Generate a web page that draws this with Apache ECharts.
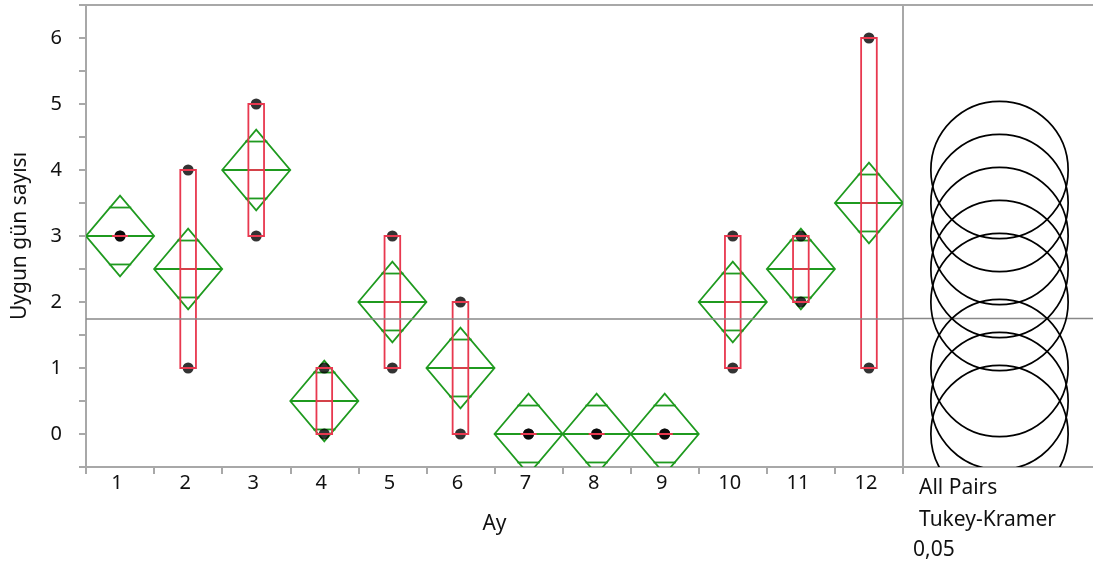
<!DOCTYPE html>
<html><head><meta charset="utf-8">
<script src="https://cdn.jsdelivr.net/npm/echarts@6/dist/echarts.min.js"></script>
<style>html,body{margin:0;padding:0;background:#fff}#c{width:1093px;height:565px}</style>
</head><body><div id="c"></div>
<script>
// ---- data ----
const months = ['1','2','3','4','5','6','7','8','9','10','11','12'];
const means = [3, 2.5, 4, 0.5, 2, 1, 0, 0, 0, 2, 2.5, 3.5];
const ciHalf = [0.61, 0.61, 0.61, 0.61, 0.61, 0.61, 0.61, 0.61, 0.61, 0.61, 0.61, 0.61];
const q1 = [3, 1, 3, 0, 1, 0, 0, 0, 0, 1, 2, 1];
const medians = [3, 2.5, 4, 0.5, 2, 1, 0, 0, 0, 2, 2.5, 3.5];
const q3 = [3, 4, 5, 1, 3, 2, 0, 0, 0, 3, 3, 6];
const pointMonth = ['1','1','2','2','3','3','4','4','5','5','6','6','7','7','8','8','9','9','10','10','11','11','12','12'];
const pointValue = [3, 3, 1, 4, 3, 5, 0, 1, 1, 3, 0, 2, 0, 0, 0, 0, 0, 0, 1, 3, 2, 3, 1, 6];
const grandMean = 1.75;
const circleCenters = [4, 3.5, 3, 2.5, 2, 1, 0.5, 0];
const circleRadius = 1.04;
const yMin = -0.5, yMax = 6.5, yStep = 0.5;

const GREEN = '#1f9a1f', RED = '#e8384f', FRAME = '#a8a8a8', FONT = 'Noto Sans';

const chart = echarts.init(document.getElementById('c'), null, {renderer: 'canvas'});

const diamondData = means.map((m, i) => [i, m, ciHalf[i]]);
const boxData = months.map((_, i) => [i, q1[i], medians[i], q3[i]]);
const pointData = pointMonth.map((m, k) => [months.indexOf(m), pointValue[k]]);
const circleData = circleCenters.map(c => [0.5, c]);

const option = {
  animation: false,
  grid: [
    {left: 86, right: 190, top: 5, bottom: 98, show: true, borderColor: FRAME, borderWidth: 2,
     containLabel: false, outerBoundsMode: 'none'},
    {left: 903, right: -3, top: 5, bottom: 98, show: true, borderColor: FRAME, borderWidth: 2,
     containLabel: false, outerBoundsMode: 'none'}
  ],
  xAxis: [
    {
      gridIndex: 0, type: 'category', data: months, boundaryGap: true,
      name: 'Ay', nameLocation: 'middle', nameGap: 47,
      nameTextStyle: {fontFamily: FONT, fontSize: 21, color: '#111'},
      axisLine: {onZero: false, lineStyle: {color: FRAME, width: 2}},
      axisTick: {show: true, alignWithLabel: false, length: 7, lineStyle: {color: FRAME, width: 2}},
      axisLabel: {fontFamily: FONT, fontSize: 20, color: '#111', margin: 6, padding: [0, 6, 0, 0]},
      splitLine: {show: false}
    },
    {
      gridIndex: 1, type: 'value', min: 0, max: 1, show: false
    }
  ],
  yAxis: [
    {
      gridIndex: 0, type: 'value', min: yMin, max: yMax, interval: yStep,
      name: 'Uygun gün sayısı', nameLocation: 'middle', nameGap: 55, nameRotate: 90,
      nameTextStyle: {fontFamily: FONT, fontSize: 21, color: '#111'},
      axisLine: {show: true, onZero: false, lineStyle: {color: FRAME, width: 2}},
      axisTick: {show: true, length: 7, lineStyle: {color: FRAME, width: 2}},
      axisLabel: {fontFamily: FONT, fontSize: 20, color: '#111', margin: 24,
        formatter: v => Number.isInteger(v) ? String(v) : ''},
      splitLine: {show: false}
    },
    {
      gridIndex: 1, type: 'value', min: yMin, max: yMax, show: false
    }
  ],
  graphic: [
    {type: 'text', left: 919, top: 478, style: {text: 'All Pairs', font: '21px "Noto Sans"', fill: '#111'}},
    {type: 'text', left: 919, top: 510, style: {text: 'Tukey-Kramer', font: '21px "Noto Sans"', fill: '#111'}},
    {type: 'text', left: 913, top: 540, style: {text: '0,05', font: '21px "Noto Sans"', fill: '#111'}}
  ],
  series: [
    {
      type: 'custom', xAxisIndex: 0, yAxisIndex: 0, z: 2, clip: true,
      data: diamondData,
      renderItem(params, api) {
        const i = api.value(0), m = api.value(1), ci = api.value(2);
        const c = api.coord([i, m]);
        const hw = api.size([1, 0])[0] / 2;
        const top = api.coord([i, m + ci])[1], bot = api.coord([i, m - ci])[1];
        const o = ci / Math.SQRT2;
        const oT = api.coord([i, m + o])[1], oB = api.coord([i, m - o])[1];
        const ow = hw * (1 - 1 / Math.SQRT2) * 1.12;
        const st = {stroke: GREEN, lineWidth: 1.8, fill: 'none'};
        return {type: 'group', children: [
          {type: 'polygon', shape: {points: [[c[0] - hw, c[1]], [c[0], top], [c[0] + hw, c[1]], [c[0], bot]]}, style: st},
          {type: 'line', shape: {x1: c[0] - hw, y1: c[1], x2: c[0] + hw, y2: c[1]}, style: st},
          {type: 'line', shape: {x1: c[0] - ow, y1: oT, x2: c[0] + ow, y2: oT}, style: st},
          {type: 'line', shape: {x1: c[0] - ow, y1: oB, x2: c[0] + ow, y2: oB}, style: st}
        ]};
      }
    },
    {
      type: 'scatter', xAxisIndex: 0, yAxisIndex: 0, z: 3,
      data: pointData, symbol: 'circle', symbolSize: 11,
      itemStyle: {color: '#000'},
      markLine: {
        silent: true, symbol: 'none', label: {show: false},
        lineStyle: {color: '#888', width: 1.5, type: 'solid'},
        data: [{yAxis: grandMean}]
      }
    },
    {
      type: 'custom', xAxisIndex: 0, yAxisIndex: 0, z: 4, clip: true,
      data: boxData,
      renderItem(params, api) {
        const i = api.value(0), a = api.value(1), md = api.value(2), b = api.value(3);
        const cx = api.coord([i, md])[0];
        const bw = api.size([1, 0])[0] * 0.115;
        const ya = api.coord([i, a])[1], yb = api.coord([i, b])[1], ym = api.coord([i, md])[1];
        const st = {stroke: RED, lineWidth: 1.8, fill: 'none'};
        return {type: 'group', children: [
          {type: 'rect', shape: {x: cx - bw, y: yb, width: 2 * bw, height: ya - yb}, style: st},
          {type: 'line', shape: {x1: cx - bw, y1: ym, x2: cx + bw, y2: ym}, style: st}
        ]};
      }
    },
    {
      type: 'line', xAxisIndex: 1, yAxisIndex: 1, z: 2,
      data: [[0, grandMean], [1, grandMean]], showSymbol: false, symbol: 'none',
      lineStyle: {color: '#888', width: 1.5}
    },
    {
      type: 'custom', xAxisIndex: 1, yAxisIndex: 1, z: 3, clip: true,
      data: circleData,
      renderItem(params, api) {
        const c = api.coord([api.value(0), api.value(1)]);
        const r = api.size([0, circleRadius])[1];
        return {type: 'circle', shape: {cx: c[0], cy: c[1], r: r},
          style: {stroke: '#000', lineWidth: 1.7, fill: 'none'}};
      }
    }
  ]
};
chart.setOption(option);
</script>
</body></html>
